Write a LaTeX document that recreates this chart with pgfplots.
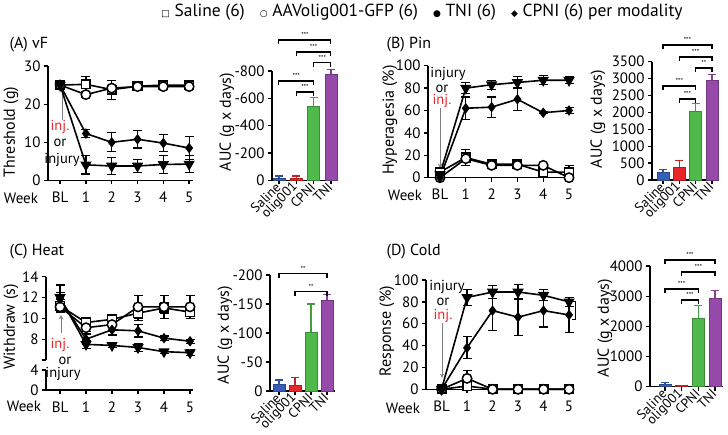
\documentclass[border=0pt]{standalone}
\usepackage{pgfplots}
\pgfplotsset{compat=1.18}
\usepackage{fontspec}
\setmainfont{PT Sans}
\newfontfamily\symfont{DejaVu Sans}
\definecolor{cblue}{RGB}{55,95,185}
\definecolor{cred}{RGB}{232,38,42}
\definecolor{cgreen}{RGB}{80,185,75}
\definecolor{cpurple}{RGB}{150,75,170}
\definecolor{injred}{RGB}{235,40,45}
\newcommand\tl{\fontsize{15}{15}\selectfont}
\newcommand\bl{\fontsize{13.5}{13.5}\selectfont}
\newcommand\an{\fontsize{14.5}{14.5}\selectfont}
\newcommand\yl{\fontsize{16}{16}\selectfont}
\newcommand\st{\fontsize{7}{7}\selectfont}
\newcommand\br[4]{\draw[line width=1.1pt] ([yshift=-4pt]axis cs:#1,#3) -- (axis cs:#1,#3) -- node[above=-1.5pt,font=\st]{#4} (axis cs:#2,#3) -- ([yshift=-4pt]axis cs:#2,#3);}
\pgfplotsset{
  prism/.style={scale only axis, anchor=south west, axis lines*=left,
    axis line style={-, line width=1.5pt}, tick style={line width=1.3pt, black},
    tick align=outside, major tick length=4pt, tick label style={font=\tl},
    clip=false, /pgf/number format/assume math mode=true, /pgf/number format/1000 sep={}},
  linep/.style={prism, xtick={0,...,5}, xticklabels={BL,1,2,3,4,5}, xticklabel style={yshift=-4pt}},
  barp/.style={prism, xtick={0,1,2,3}, xticklabels={Saline,olig001,CPNI,TNI},
    xticklabel style={rotate=45, anchor=east, inner sep=1pt, font=\bl}},
  ser/.style={black, line width=1.6pt, error bars/y dir=both, error bars/y explicit,
    error bars/error bar style={line width=1.2pt, black},
    error bars/error mark options={rotate=90, line width=1.2pt, mark size=4.5pt, black}},
  sal/.style={ser, mark=square*, mark size=4.3pt, mark options={fill=white, line width=1.5pt}},
  oli/.style={ser, mark=*, mark size=4.7pt, mark options={fill=white, line width=1.5pt}},
  tni/.style={ser, mark=triangle*, mark size=5pt, mark options={fill=black, rotate=180}},
  cpn/.style={ser, mark=diamond*, mark size=4pt, mark options={fill=black}},
  bb/.style={ybar, bar width=12pt, bar shift=0pt, fill=#1, draw=#1!75!black, line width=0.8pt,
    error bars/y dir=plus, error bars/y explicit,
    error bars/error bar style={line width=1.2pt, #1!85!black},
    error bars/error mark options={rotate=90, line width=1.2pt, mark size=4pt, #1!85!black}},
}
\begin{document}
\begin{tikzpicture}
\useasboundingbox (0,0) rectangle (728pt,435pt);
% legend
\node[font=\fontsize{17.5}{17.5}\selectfont] at (422pt,423pt) {{\symfont\small □}~Saline (6)\hspace{15pt}{\symfont\small ○}~AAVolig001-GFP (6)\hspace{15pt}{\symfont\small ●}~TNI (6)\hspace{15pt}{\symfont\small ◆}~CPNI (6) per modality};
% titles
\node[anchor=west,font=\fontsize{16}{16}\selectfont] at (6pt,390pt) {(A) vF};
\node[anchor=west,font=\fontsize{16}{16}\selectfont] at (383pt,390pt) {(B) Pin};
\node[anchor=west,font=\fontsize{16}{16}\selectfont] at (6pt,183pt) {(C) Heat};
\node[anchor=west,font=\fontsize{16}{16}\selectfont] at (383pt,183pt) {(D) Cold};
% y labels
\node[rotate=90,font=\yl] at (11pt,303pt) {Threshold (g)};
\node[rotate=90,font=\yl] at (227pt,313pt) {AUC (g x days)};
\node[rotate=90,font=\yl] at (390pt,315pt) {Hyperagesia (\%)};
\node[rotate=90,font=\yl] at (598pt,316pt) {AUC (g x days)};
\node[rotate=90,font=\yl] at (11pt,108pt) {Withdraw (s)};
\node[rotate=90,font=\yl] at (225pt,100pt) {AUC (g x days)};
\node[rotate=90,font=\yl] at (387pt,104pt) {Response (\%)};
\node[rotate=90,font=\yl] at (605pt,107pt) {AUC (g x days)};
% Week
\node[font=\tl] at (21pt,237pt) {Week};
\node[font=\tl] at (405pt,240pt) {Week};
\node[font=\tl] at (24pt,29pt) {Week};
\node[font=\tl] at (403pt,27pt) {Week};
% annotations
\draw[gray,line width=1pt,-stealth] (62pt,315pt) -- (62pt,347pt);
\node[font=\an,text=injred] at (60pt,308pt) {inj.};
\node[font=\an] at (60pt,292pt) {or};
\node[font=\an] at (62pt,275pt) {injury};
\node[font=\an] at (448pt,361pt) {injury};
\node[font=\an] at (442pt,346pt) {or};
\node[font=\an,text=injred] at (442pt,334pt) {inj.};
\draw[gray,line width=1pt,-stealth] (440pt,327pt) -- (440pt,267pt);
\draw[gray,line width=1pt,-stealth] (61pt,102pt) -- (61pt,120pt);
\node[font=\an,text=injred] at (60pt,90pt) {inj.};
\node[font=\an] at (65pt,74pt) {or};
\node[font=\an] at (63pt,61pt) {injury};
\node[font=\an] at (447pt,148pt) {injury};
\node[font=\an] at (443pt,133pt) {or};
\node[font=\an,text=injred] at (443pt,119pt) {inj.};
\draw[gray,line width=1pt,-stealth] (442pt,112pt) -- (442pt,57pt);

% ---------------- A line
\begin{axis}[linep, at={(48pt,254.5pt)}, width=145pt, height=114.5pt,
  xmin=-0.47, xmax=5.15, ymin=0, ymax=30, ytick={0,10,20,30}]
\addplot[sal] coordinates {(0,25)+-(0,0.5) (1,25.2)+-(0,2) (2,23.8)+-(0,2.5) (3,24.7)+-(0,0.8) (4,25)+-(0,0.8) (5,25)+-(0,0.8)};
\addplot[oli] coordinates {(0,25)+-(0,0.5) (1,22.5)+-(0,0.6) (2,24.2)+-(0,0.6) (3,24.6)+-(0,0.5) (4,24.6)+-(0,0.5) (5,24.6)+-(0,0.5)};
\addplot[cpn] coordinates {(0,25)+-(0,0.5) (1,12.3)+-(0,1) (2,10)+-(0,2.5) (3,10.8)+-(0,2.3) (4,9.8)+-(0,2.3) (5,8.5)+-(0,3)};
\addplot[tni] coordinates {(0,25)+-(0,0.5) (1,4.1)+-(0,2.4) (2,3.8)+-(0,2.3) (3,3.8)+-(0,1.8) (4,4.2)+-(0,2.3) (5,4.3)+-(0,2.2)};
\end{axis}
% ---------------- A bar
\begin{axis}[barp, at={(272pt,254.7pt)}, width=65pt, height=109.3pt,
  xmin=-0.4, xmax=3.35, ymin=0, ymax=800, ytick={0,200,400,600,800},
  yticklabels={0,-200,-400,-600,-800}]
\addplot[bb=cblue] coordinates {(0,15)+-(0,17)};
\addplot[bb=cred] coordinates {(1,15)+-(0,17)};
\addplot[bb=cgreen] coordinates {(2,544)+-(0,61)};
\addplot[bb=cpurple] coordinates {(3,778)+-(0,34)};
\br{0}{3}{1027}{***}
\br{1}{3}{939}{***}
\br{2}{3}{859}{***}
\br{0}{2}{727}{***}
\br{1}{2}{646}{***}
\end{axis}
% ---------------- B line
\begin{axis}[linep, at={(428pt,257.3pt)}, width=144.1pt, height=112pt,
  xmin=-0.465, xmax=5.12, ymin=0, ymax=100, ytick={0,20,...,100}]
\addplot[sal] coordinates {(0,5)+-(0,0) (1,18)+-(0,7) (2,12)+-(0,2) (3,12)+-(0,2) (4,5)+-(0,2) (5,5)+-(0,6)};
\addplot[oli] coordinates {(0,0)+-(0,0) (1,17)+-(0,3) (2,11)+-(0,2) (3,11)+-(0,2) (4,11)+-(0,2) (5,0)+-(0,0)};
\addplot[cpn] coordinates {(0,0)+-(0,0) (1,62)+-(0,10) (2,63)+-(0,9) (3,70)+-(0,10) (4,58)+-(0,1) (5,60)+-(0,3)};
\addplot[tni] coordinates {(0,3)+-(0,0) (1,80)+-(0,5) (2,83)+-(0,4) (3,85)+-(0,5) (4,87)+-(0,4) (5,87)+-(0,3)};
\end{axis}
% ---------------- B bar
\begin{axis}[barp, at={(652pt,255pt)}, width=66pt, height=118.3pt,
  xmin=-0.67, xmax=3.37, ymin=0, ymax=3500, ytick={0,500,...,3500}]
\addplot[bb=cblue] coordinates {(0,217)+-(0,100)};
\addplot[bb=cred] coordinates {(1,375)+-(0,195)};
\addplot[bb=cgreen] coordinates {(2,2040)+-(0,230)};
\addplot[bb=cpurple] coordinates {(3,2960)+-(0,170)};
\br{0}{3}{3994}{***}
\br{1}{3}{3639}{***}
\br{2}{3}{3314}{**}
\br{0}{2}{2781}{***}
\br{1}{2}{2396}{***}
\end{axis}
% ---------------- C line (broken axis)
\begin{axis}[prism, axis x line=none, axis y line*=left, at={(46pt,75pt)}, width=146.6pt, height=83.3pt,
  xmin=-0.54, xmax=5.1, ymin=6, ymax=14, ytick={6,8,10,12,14}, yticklabels={,8,10,12,14}]
\addplot[sal] coordinates {(0,11.2)+-(0,0.6) (1,9.6)+-(0,0.3) (2,9.9)+-(0,0.5) (3,10.5)+-(0,0.7) (4,11)+-(0,0.5) (5,10.6)+-(0,0.4)};
\addplot[oli] coordinates {(0,11.1)+-(0,0.5) (1,9.1)+-(0,0.4) (2,9.4)+-(0,0.6) (3,11.1)+-(0,1.1) (4,11.1)+-(0,1.1) (5,11.1)+-(0,1.1)};
\addplot[cpn] coordinates {(0,11.9)+-(0,0.6) (1,8.0)+-(0,0.5) (2,8.9)+-(0,0.5) (3,8.8)+-(0,0.6) (4,8.1)+-(0,0.2) (5,7.8)+-(0,0.2)};
\addplot[tni] coordinates {(0,12)+-(0,1.2) (1,7.5)+-(0,0.4) (2,7.4)+-(0,0.2) (3,7.2)+-(0,0.4) (4,6.8)+-(0,0.2) (5,6.7)+-(0,0.3)};
\end{axis}
\begin{axis}[linep, at={(46pt,45pt)}, width=146.6pt, height=20pt,
  xmin=-0.54, xmax=5.1, ymin=0, ymax=4, ytick={0,4}]
\end{axis}
% ---------------- C bar
\begin{axis}[barp, at={(270pt,44pt)}, width=65pt, height=116pt,
  xmin=-0.5625, xmax=3.5, ymin=0, ymax=200, ytick={0,50,...,200},
  yticklabels={0,-50,-100,-150,-200}]
\addplot[bb=cblue] coordinates {(0,12)+-(0,7)};
\addplot[bb=cred] coordinates {(1,9)+-(0,14)};
\addplot[bb=cgreen] coordinates {(2,101)+-(0,49)};
\addplot[bb=cpurple] coordinates {(3,157)+-(0,10)};
\br{0}{3}{202}{**}
\br{1}{3}{171}{**}
\end{axis}
% ---------------- D line
\begin{axis}[linep, at={(426pt,45.7pt)}, width=146.1pt, height=109.3pt,
  xmin=-0.61, xmax=5.12, ymin=0, ymax=100, ytick={0,20,...,100}]
\addplot[sal] coordinates {(0,0)+-(0,0) (1,3)+-(0,3) (2,0)+-(0,0) (3,0)+-(0,0) (4,0)+-(0,0) (5,0)+-(0,0)};
\addplot[oli] coordinates {(0,0)+-(0,0) (1,10)+-(0,7) (2,0)+-(0,0) (3,0)+-(0,0) (4,0)+-(0,0) (5,0)+-(0,0)};
\addplot[cpn] coordinates {(0,0)+-(0,0) (1,38)+-(0,10) (2,72)+-(0,18) (3,66)+-(0,17) (4,72)+-(0,15) (5,68)+-(0,16)};
\addplot[tni] coordinates {(0,0)+-(0,0) (1,84)+-(0,7) (2,89)+-(0,6) (3,89)+-(0,7) (4,86)+-(0,5) (5,80)+-(0,4)};
\draw[line width=1pt] (axis cs:5.12,80) -- (axis cs:5.25,80) -- (axis cs:5.25,64) -- (axis cs:5.12,64);
\end{axis}
% ---------------- D bar
\begin{axis}[barp, at={(650pt,48.3pt)}, width=73pt, height=120.7pt,
  xmin=-0.9, xmax=3.48, ymin=0, ymax=4000, ytick={0,1000,...,4000}]
\addplot[bb=cblue] coordinates {(0,60)+-(0,70)};
\addplot[bb=cred] coordinates {(1,33)+-(0,5)};
\addplot[bb=cgreen] coordinates {(2,2265)+-(0,425)};
\addplot[bb=cpurple] coordinates {(3,2940)+-(0,240)};
\br{0}{3}{4198}{***}
\br{1}{3}{3800}{***}
\br{0}{2}{3237}{***}
\br{1}{2}{2873}{***}
\end{axis}
\end{tikzpicture}
\end{document}
